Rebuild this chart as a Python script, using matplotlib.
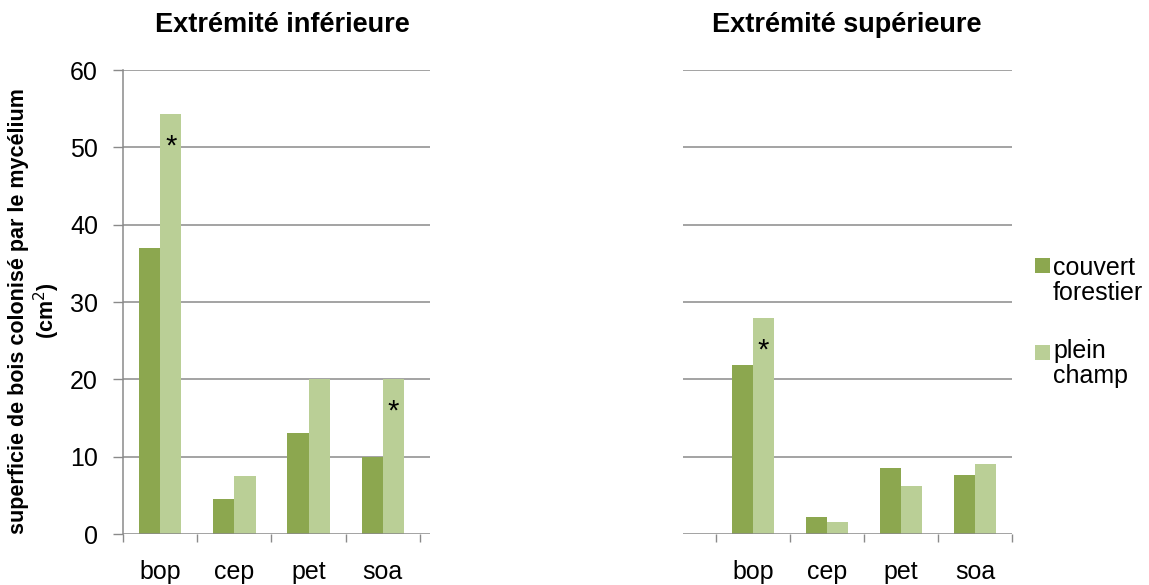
import matplotlib
matplotlib.use("Agg")
import matplotlib.pyplot as plt
from matplotlib.patches import Rectangle
import numpy as np

plt.rcParams['font.family'] = ['Liberation Sans', 'DejaVu Sans']

categories = ["bop", "cep", "pet", "soa"]
series_names = [["couvert", "forestier"], ["plein", "champ"]]

# Lower end of the wood pieces
inf_couvert = [37.0, 4.5, 13.1, 9.9]
inf_plein = [54.3, 7.5, 20.0, 20.0]
inf_signif = [True, False, False, True]

# Upper end of the wood pieces
sup_couvert = [21.8, 2.2, 8.5, 7.6]
sup_plein = [27.9, 1.6, 6.2, 9.0]
sup_signif = [True, False, False, False]

titles = ["Extrémité inférieure", "Extrémité supérieure"]
ylabel = "superficie de bois colonisé par le mycélium\n(cm$^2$)"
yticks = [0, 10, 20, 30, 40, 50, 60]

dark = "#8CA74F"
light = "#BACF96"
grid_c = "#8A8A8A"

W, H = 1149, 585
fig = plt.figure(figsize=(W / 100, H / 100), dpi=100)


def fx(px):
    return px / W


def fy(py):
    return 1 - py / H


def px_axes(x0, x1, y0, y1):
    return fig.add_axes([fx(x0), fy(y1), (x1 - x0) / W, (y1 - y0) / H])


ax1 = px_axes(123, 430, 70, 534)
ax2 = px_axes(683, 1012, 70, 534)

bw = 0.285
x = np.arange(len(categories))


def draw(ax, a, b, signif, xlim, show_y):
    ax.bar(x - bw / 2, a, width=bw, color=dark, zorder=3)
    ax.bar(x + bw / 2, b, width=bw, color=light, zorder=3)
    for xi, v, s in zip(x, b, signif):
        if s:
            ax.annotate("*", xy=(xi + bw / 2, v), xytext=(0, -32),
                        textcoords="offset pixels", ha="center", va="center",
                        fontsize=21, zorder=4)
    ax.set_ylim(0, 60)
    ax.set_xlim(*xlim)
    ax.set_yticks(yticks)
    for yv in yticks[1:]:
        ax.axhline(yv, color=grid_c, lw=1.1, zorder=1)
    ax.axhline(0, color=grid_c, lw=1.1, zorder=4)
    ax.set_xticks(np.arange(len(categories) + 1) - 0.5)
    ax.set_xticklabels([])
    ax.set_xticks(x, categories, minor=True)
    ax.tick_params(axis="x", which="major", length=6, width=1, color=grid_c, direction="out")
    ax.tick_params(axis="x", which="minor", length=0, labelsize=18, pad=18.5)
    for sp in ["top", "right", "bottom"]:
        ax.spines[sp].set_visible(False)
    if show_y:
        ax.spines["left"].set_color(grid_c)
        ax.spines["left"].set_linewidth(1.1)
        ax.tick_params(axis="y", length=7, width=1, color=grid_c, labelsize=18, pad=11)
    else:
        ax.spines["left"].set_visible(False)
        ax.tick_params(axis="y", length=0, labelleft=False)


draw(ax1, inf_couvert, inf_plein, inf_signif, (-0.5, 3.635), True)
draw(ax2, sup_couvert, sup_plein, sup_signif, (-0.946, 3.5), False)

# Panel titles
fig.text(fx(282), fy(32), titles[0], fontsize=19.5, fontweight="bold",
         ha="center", va="baseline")
fig.text(fx(847), fy(32), titles[1], fontsize=19.5, fontweight="bold",
         ha="center", va="baseline")

# Shared y-axis label
fig.text(fx(35), fy(311), ylabel, rotation=90, fontsize=15.5, fontweight="bold",
         ha="center", va="center", multialignment="center", linespacing=1.1)

# Legend: colour key aligned on the first line of each two-line label
legend_rows = [(dark, 258, [275, 300]), (light, 345, [358, 383])]
for (color, sq_top, baselines), words in zip(legend_rows, series_names):
    fig.patches.append(Rectangle((fx(1035), fy(sq_top + 15)), 15 / W, 15 / H,
                                 transform=fig.transFigure, facecolor=color,
                                 edgecolor="none"))
    for word, base in zip(words, baselines):
        fig.text(fx(1053), fy(base), word, fontsize=18, ha="left", va="baseline")

fig.savefig("out.png", dpi=100)
